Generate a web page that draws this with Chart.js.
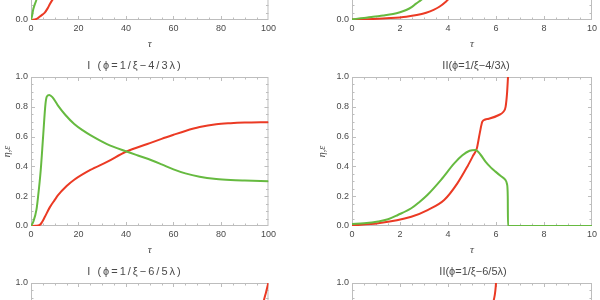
<!DOCTYPE html>
<html>
<head>
<meta charset="utf-8">
<script src="https://cdn.jsdelivr.net/npm/chart.js"></script>
<style>
html, body { margin: 0; padding: 0; background: #fff; }
body { width: 600px; height: 300px; overflow: hidden; position: relative; }
.panel { position: absolute; width: 300px; height: 206px; }
</style>
</head>
<body>
<div class="panel" style="left:-21px;top:-146px"><canvas id="topLeft" width="300" height="206"></canvas></div>
<div class="panel" style="left:300px;top:-146px"><canvas id="topRight" width="300" height="206"></canvas></div>
<div class="panel" style="left:-21px;top:60px"><canvas id="midLeft" width="300" height="206"></canvas></div>
<div class="panel" style="left:300px;top:60px"><canvas id="midRight" width="300" height="206"></canvas></div>
<div class="panel" style="left:-21px;top:266px"><canvas id="botLeft" width="300" height="206"></canvas></div>
<div class="panel" style="left:300px;top:266px"><canvas id="botRight" width="300" height="206"></canvas></div>
<script>
// tick labels
const yTicks = [0, 0.2, 0.4, 0.6, 0.8, 1.0];
const xTicksI = [0, 20, 40, 60, 80, 100];
const xTicksII = [0, 2, 4, 6, 8, 10];

// top row (only the bottom edge is in view)
const topLeftGreenT = [0, 0.4, 0.95, 1.6, 2.35, 3, 4, 5, 6, 7, 8, 10, 15, 20, 30, 40, 60, 80, 100];
const topLeftGreenV = [0, 0.025, 0.072, 0.105, 0.14, 0.2, 0.35, 0.55, 0.72, 0.82, 0.86, 0.83, 0.74, 0.67, 0.58, 0.52, 0.42, 0.36, 0.33];
const topLeftRedT = [0, 1, 2, 2.8, 3.7, 4.8, 5.8, 7, 7.9, 9.2, 11, 15, 20, 30, 40, 60, 80, 100];
const topLeftRedV = [0, 0.002, 0.005, 0.012, 0.023, 0.036, 0.05, 0.078, 0.105, 0.14, 0.18, 0.25, 0.33, 0.44, 0.52, 0.62, 0.67, 0.69];

const topRightGreenT = [0, 0.5, 0.88, 1.3, 1.71, 2.0, 2.26, 2.5, 2.67, 2.88, 3.2, 3.6, 4, 4.5, 5, 6, 8, 10];
const topRightGreenV = [0.005, 0.013, 0.022, 0.03, 0.04, 0.052, 0.067, 0.088, 0.11, 0.134, 0.18, 0.25, 0.33, 0.42, 0.48, 0.5, 0.5, 0.5];
const topRightRedT = [0, 0.88, 1.6, 2.26, 2.7, 3.09, 3.4, 3.64, 3.91, 4.2, 4.6, 5, 6, 8, 10];
const topRightRedV = [0.003, 0.007, 0.013, 0.022, 0.033, 0.049, 0.068, 0.089, 0.123, 0.17, 0.25, 0.35, 0.6, 0.9, 1.0];

// I (phi = 1/xi - 4/3 lambda)
const midLeftGreenT = [0, 1, 2.3, 3, 4.1, 5.1, 6.1, 6.7, 7.7, 9, 11.3, 14.5, 18.2, 22, 25, 32, 40.2, 45, 51, 55, 60, 65, 71, 78, 84, 90, 100];
const midLeftGreenV = [0, 0.03, 0.11, 0.2, 0.376, 0.6, 0.82, 0.87, 0.88, 0.865, 0.81, 0.745, 0.685, 0.64, 0.61, 0.55, 0.5, 0.473, 0.44, 0.414, 0.38, 0.353, 0.331, 0.316, 0.309, 0.305, 0.3];
const midLeftRedT = [0, 2, 3.7, 4.6, 5.8, 7.9, 10, 11.3, 15, 18.2, 25, 32, 40.2, 49, 55, 60, 65, 71, 78, 84, 90, 100];
const midLeftRedV = [0, 0.001, 0.007, 0.025, 0.06, 0.125, 0.175, 0.205, 0.268, 0.31, 0.376, 0.43, 0.5, 0.55, 0.585, 0.612, 0.638, 0.664, 0.683, 0.69, 0.694, 0.697];

// II (phi = 1/xi - 4/3 lambda)
const midRightGreenT = [0, 0.5, 1.09, 1.5, 1.91, 2.47, 2.8, 3.15, 3.71, 4.26, 4.6, 4.9, 5.15, 5.35, 5.57, 5.8, 5.98, 6.2, 6.39, 6.46, 6.49, 6.5, 8, 10];
const midRightGreenV = [0.013, 0.018, 0.03, 0.045, 0.074, 0.119, 0.16, 0.21, 0.31, 0.42, 0.475, 0.505, 0.51, 0.48, 0.43, 0.39, 0.365, 0.335, 0.31, 0.28, 0.2, 0, 0, 0];
const midRightRedT = [0, 1.09, 2.47, 3.15, 3.84, 4.39, 4.81, 5.06, 5.2, 5.32, 5.43, 5.55, 5.7, 6.12, 6.3, 6.4, 6.46, 6.5, 6.55];
const midRightRedV = [0.005, 0.018, 0.062, 0.107, 0.174, 0.286, 0.4, 0.476, 0.52, 0.62, 0.7, 0.715, 0.72, 0.745, 0.765, 0.8, 0.89, 1.0, 1.15];

// I (phi = 1/xi - 6/5 lambda), only the top edge is in view
const botLeftGreenT = [0, 2, 4, 6, 8, 12, 20, 40, 60, 80, 100];
const botLeftGreenV = [0, 0.1, 0.4, 0.7, 0.78, 0.74, 0.66, 0.5, 0.4, 0.34, 0.3];
const botLeftRedT = [0, 5, 10, 20, 40, 60, 80, 90, 95, 97, 98.1, 99, 99.9, 100.5];
const botLeftRedV = [0, 0.02, 0.1, 0.25, 0.45, 0.58, 0.68, 0.73, 0.77, 0.8, 0.886, 0.94, 1.0, 1.05];

// II (phi = 1/xi - 6/5 lambda)
const botRightGreenT = [0, 1, 2, 3, 4, 4.8, 5.3, 5.6, 5.9, 6.1, 6.11, 10];
const botRightGreenV = [0.01, 0.03, 0.08, 0.18, 0.35, 0.47, 0.48, 0.4, 0.3, 0.2, 0, 0];
const botRightRedT = [0, 1, 2, 3, 4, 4.5, 5, 5.4, 5.7, 5.91, 6.0, 6.05];
const botRightRedV = [0.003, 0.012, 0.04, 0.09, 0.2, 0.3, 0.45, 0.62, 0.77, 0.886, 1.0, 1.2];

const green = 'rgb(102,186,64)';
const red = 'rgb(235,58,36)';
const textColor = '#4a4a4a';
const frameColor = '#bdbdbd';

Chart.defaults.font.family = "'Liberation Sans', Arial, sans-serif";
Chart.defaults.font.size = 9;
Chart.defaults.color = textColor;

function pts(t, v) {
    return t.map((x, i) => ({x: x, y: v[i]}));
}

// frame with inward major/minor ticks, like the original plots
const frameTicks = {
    id: 'frameTicks',
    beforeDatasetsDraw(chart, args, opts) {
        const {ctx, chartArea: a, scales: {x, y}} = chart;
        ctx.save();
        ctx.strokeStyle = frameColor;
        ctx.lineWidth = 1;
        ctx.strokeRect(a.left + 0.5, a.top + 0.5, a.right - a.left - 1, a.bottom - a.top - 1);
        let n = Math.round((x.max - x.min) / opts.xMinor);
        let every = Math.round(opts.xMajor / opts.xMinor);
        ctx.beginPath();
        for (let i = 1; i < n; i++) {
            const px = Math.round(x.getPixelForValue(x.min + i * opts.xMinor)) + 0.5;
            const len = i % every == 0 ? 4 : 2.5;
            ctx.moveTo(px, a.bottom); ctx.lineTo(px, a.bottom - len);
            ctx.moveTo(px, a.top); ctx.lineTo(px, a.top + len);
        }
        n = Math.round((y.max - y.min) / 0.05);
        for (let i = 1; i < n; i++) {
            const py = Math.round(y.getPixelForValue(y.min + i * 0.05)) + 0.5;
            const len = i % 4 == 0 ? 4 : 2.5;
            ctx.moveTo(a.left, py); ctx.lineTo(a.left + len, py);
            ctx.moveTo(a.right, py); ctx.lineTo(a.right - len, py);
        }
        ctx.stroke();
        ctx.restore();
    }
};

const panelTitle = {
    id: 'panelTitle',
    afterDraw(chart, args, opts) {
        if (!opts.text) return;
        const ctx = chart.ctx;
        ctx.save();
        ctx.font = "11px 'Liberation Sans', Arial, sans-serif";
        ctx.fillStyle = textColor;
        ctx.textAlign = 'center';
        ctx.textBaseline = 'middle';
        if ('letterSpacing' in ctx) ctx.letterSpacing = (opts.spacing || 0) + 'px';
        ctx.fillText(opts.text, opts.x, 5.5);
        ctx.restore();
    }
};

function makePanel(id, o) {
    return new Chart(document.getElementById(id), {
        type: 'line',
        data: {
            datasets: [
                {data: pts(o.gt, o.gv), borderColor: green},
                {data: pts(o.rt, o.rv), borderColor: red}
            ]
        },
        options: {
            responsive: false,
            animation: false,
            layout: {padding: {top: 17, right: 6, left: 0, bottom: 0}},
            elements: {
                point: {radius: 0},
                line: {borderWidth: 2, fill: false, cubicInterpolationMode: 'monotone'}
            },
            plugins: {
                legend: {display: false},
                tooltip: {enabled: false},
                panelTitle: {text: o.title, x: o.titleX, spacing: o.spacing},
                frameTicks: {xMajor: o.xTicks[1], xMinor: o.xTicks[1] / 4}
            },
            scales: {
                x: {
                    type: 'linear',
                    min: o.xTicks[0],
                    max: o.xTicks[o.xTicks.length - 1],
                    afterFit: s => { s.height = 40; },
                    afterBuildTicks: s => { s.ticks = o.xTicks.map(v => ({value: v})); },
                    ticks: {padding: 3, maxRotation: 0, autoSkip: false, color: textColor},
                    grid: {display: false, drawTicks: false},
                    border: {display: false},
                    title: {
                        display: true, text: 'τ', color: textColor,
                        font: {family: "'Liberation Serif', serif", style: 'italic', size: 11},
                        padding: {top: 0, bottom: 9}
                    }
                },
                y: {
                    min: 0,
                    max: 1,
                    afterFit: s => { s.width = 52; },
                    afterBuildTicks: s => { s.ticks = yTicks.map(v => ({value: v})); },
                    ticks: {padding: 3, color: textColor, callback: v => v.toFixed(1)},
                    grid: {display: false, drawTicks: false},
                    border: {display: false},
                    title: {
                        display: true, text: 'η,ε', color: textColor,
                        font: {family: "'Liberation Serif', serif", style: 'italic', size: 10},
                        padding: {top: o.yTitlePad, bottom: 0}
                    }
                }
            }
        },
        plugins: [frameTicks, panelTitle]
    });
}

makePanel('topLeft', {gt: topLeftGreenT, gv: topLeftGreenV, rt: topLeftRedT, rv: topLeftRedV,
    xTicks: xTicksI, yTitlePad: 22});
makePanel('topRight', {gt: topRightGreenT, gv: topRightGreenV, rt: topRightRedT, rv: topRightRedV,
    xTicks: xTicksII, yTitlePad: 16});
makePanel('midLeft', {gt: midLeftGreenT, gv: midLeftGreenV, rt: midLeftRedT, rv: midLeftRedV,
    xTicks: xTicksI, yTitlePad: 22, title: 'I (ϕ=1/ξ−4/3λ)', titleX: 156, spacing: 2});
makePanel('midRight', {gt: midRightGreenT, gv: midRightGreenV, rt: midRightRedT, rv: midRightRedV,
    xTicks: xTicksII, yTitlePad: 16, title: 'II(ϕ=1/ξ−4/3λ)', titleX: 176, spacing: 0});
makePanel('botLeft', {gt: botLeftGreenT, gv: botLeftGreenV, rt: botLeftRedT, rv: botLeftRedV,
    xTicks: xTicksI, yTitlePad: 22, title: 'I (ϕ=1/ξ−6/5λ)', titleX: 156, spacing: 2});
makePanel('botRight', {gt: botRightGreenT, gv: botRightGreenV, rt: botRightRedT, rv: botRightRedV,
    xTicks: xTicksII, yTitlePad: 16, title: 'II(ϕ=1/ξ−6/5λ)', titleX: 173, spacing: 0});
</script>
</body>
</html>
